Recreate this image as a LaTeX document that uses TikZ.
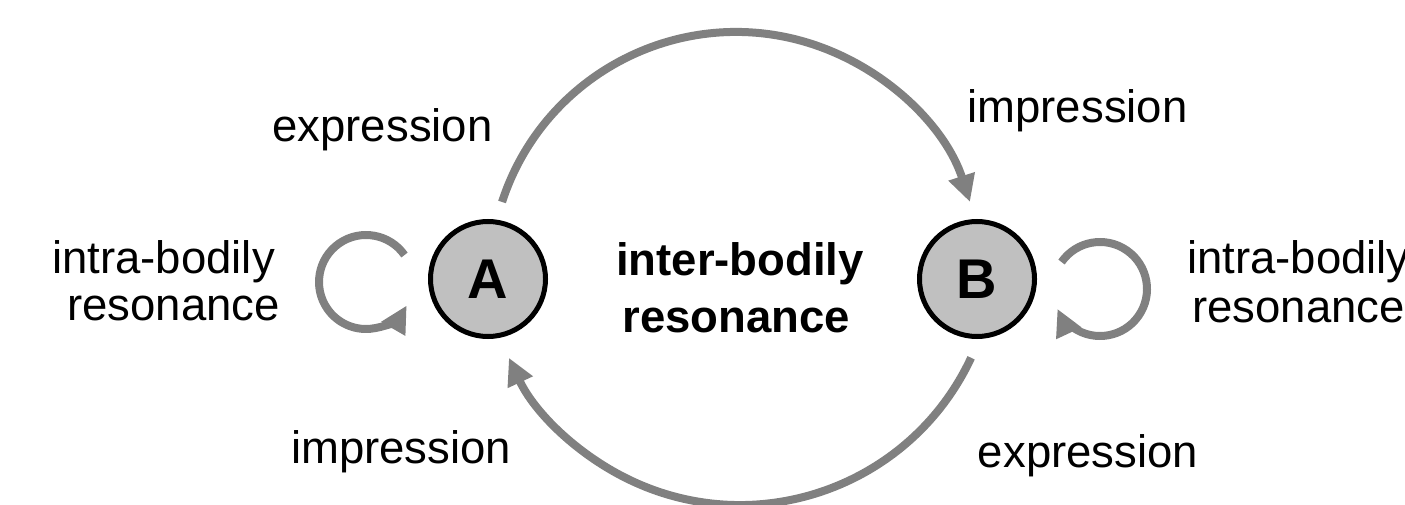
\documentclass[tikz,border=0pt]{standalone}
\usepackage{fontspec}
\setmainfont{Liberation Sans}
\usetikzlibrary{arrows.meta}
\definecolor{arrowgray}{RGB}{128,128,128}
\definecolor{nodegray}{RGB}{192,192,192}
\begin{document}
\begin{tikzpicture}[x=1pt,y=1pt,
  agent/.style={circle, draw=black, line width=5pt, fill=nodegray, minimum size=115pt, inner sep=0pt, font=\fontsize{56}{60}\selectfont\bfseries},
  flow/.style={draw=arrowgray, line width=8pt, -{Triangle[length=27pt,width=26pt]}},
  lbl/.style={inner sep=0pt, anchor=base, font=\fontsize{45.5}{50}\selectfont},
  blbl/.style={lbl, font=\fontsize{45.5}{50}\selectfont\bfseries}]
\useasboundingbox (0,0) rectangle (1405,504);
% agents
\node[agent] (A) at (488,225) {A};
\node[agent] (B) at (977,225) {B};
% centres of the arcs
\coordinate (O1) at (736,226);
\coordinate (O2) at (740,254);
\coordinate (LA) at (366,222);
\coordinate (LB) at (1100,215);
% inter-bodily arcs
\draw[flow] (O1) ++(162:246) arc[start angle=162, end angle=18, radius=246];
\draw[flow] (O2) ++(-25:255) arc[start angle=-25, end angle=-155, radius=255];
% intra-bodily loops
\draw[flow] (LA) ++(35:47) arc[start angle=35, end angle=330, radius=47];
\draw[flow] (LB) ++(145:47) arc[start angle=145, end angle=-155, radius=47];
% labels
\node[lbl] (exA) at (382.5,362) {expression};
\node[lbl] (imB) at (1077.5,381) {impression};
\node[lbl, anchor=base east] (intraA1) at (275,231) {intra-bodily};
\node[lbl, anchor=base east] (intraA2) at (280,184) {resonance};
\node[blbl] (inter1) at (740,229) {inter-bodily};
\node[blbl] (inter2) at (736.5,172) {resonance};
\node[lbl, anchor=base west] (intraB1) at (1187,231) {intra-bodily};
\node[lbl, anchor=base west] (intraB2) at (1192,182) {resonance};
\node[lbl] (imA) at (401,41) {impression};
\node[lbl] (exB) at (1088,37) {expression};
\end{tikzpicture}
\end{document}
